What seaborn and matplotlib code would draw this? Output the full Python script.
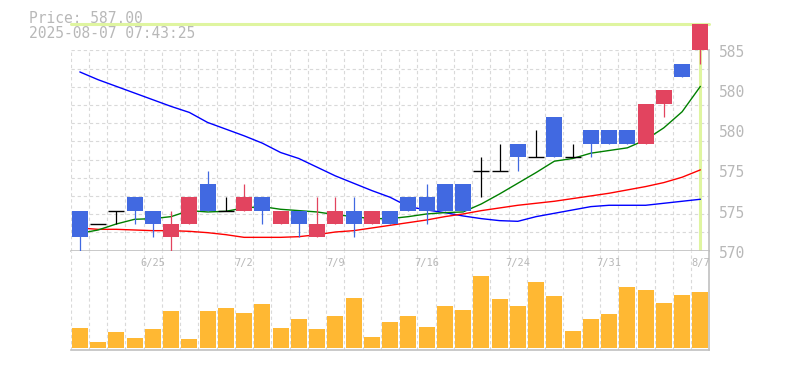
import numpy as np
import pandas as pd
import matplotlib
matplotlib.use("Agg")
import matplotlib.pyplot as plt
import matplotlib.transforms as mtransforms
import seaborn as sns

# ---- data ----
dates = ['6/19', '6/20', '6/23', '6/24', '6/25', '6/26', '6/27', '6/30', '7/1', '7/2',
         '7/3', '7/4', '7/7', '7/8', '7/9', '7/10', '7/11', '7/14', '7/15', '7/16',
         '7/17', '7/18', '7/22', '7/23', '7/24', '7/25', '7/28', '7/29', '7/30', '7/31',
         '8/1', '8/4', '8/5', '8/6', '8/7']
opens = [573, 572, 573, 574, 573, 571, 572, 575, 573, 573,
         574, 572, 573, 571, 572, 573, 572, 573, 574, 574,
         575, 575, 576, 576, 578, 577, 580, 577, 579, 579,
         579, 578, 581, 584, 585]
highs = [573, 572, 573, 574, 573, 573, 574, 576, 574, 575,
         574, 573, 573, 574, 574, 574, 573, 573, 574, 575,
         575, 575, 577, 578, 578, 579, 580, 578, 579, 579,
         579, 581, 582, 584, 587]
lows = [570, 572, 572, 572, 571, 570, 572, 573, 573, 573,
        572, 572, 571, 571, 572, 571, 572, 572, 573, 572,
        573, 573, 574, 576, 576, 577, 577, 577, 577, 578,
        578, 578, 580, 583, 584]
closes = [571, 572, 573, 573, 572, 572, 574, 573, 573, 574,
          573, 573, 572, 572, 573, 572, 573, 572, 573, 573,
          573, 573, 576, 576, 577, 577, 577, 577, 578, 578,
          578, 581, 582, 583, 587]
ma5 = [571.3, 571.55, 572.0, 572.35, 572.4, 572.55, 573.0, 572.9, 572.95, 573.2,
       573.3, 573.1, 573.0, 572.9, 572.7, 572.55, 572.4, 572.4, 572.55, 572.75,
       572.85, 572.9, 573.5, 574.25, 575.05, 575.85, 576.7, 576.9, 577.3, 577.5,
       577.7, 578.3, 579.2, 580.4, 582.3]
ma25 = [571.7, 571.6, 571.6, 571.55, 571.5, 571.5, 571.45, 571.35, 571.2, 571.0,
        571.0, 571.0, 571.05, 571.2, 571.4, 571.5, 571.7, 571.9, 572.1, 572.3,
        572.55, 572.75, 573.0, 573.2, 573.4, 573.55, 573.7, 573.9, 574.1, 574.3,
        574.55, 574.8, 575.1, 575.5, 576.05]
ma75 = [583.38, 582.8, 582.3, 581.8, 581.3, 580.8, 580.35, 579.6, 579.1, 578.6,
        578.05, 577.35, 576.9, 576.25, 575.6, 575.05, 574.5, 574.0, 573.3, 573.05,
        572.85, 572.6, 572.4, 572.25, 572.2, 572.55, 572.8, 573.05, 573.3, 573.4,
        573.4, 573.4, 573.55, 573.7, 573.85]
volume = [19300, 5300, 15300, 9300, 18300, 36300, 8300, 36300, 39300, 34300,
          43300, 19300, 28300, 18300, 31300, 49300, 10300, 25300, 31300, 20300,
          41300, 37300, 71700, 48300, 41300, 65300, 51300, 16300, 28300, 33300,
          60300, 57300, 44300, 52300, 55300]
price_ticks = [570, 573, 576, 579, 582, 585]
price_tick_labels = ['570', '575', '575', '580', '580', '585']
timestamp = '2025-08-07 07:43:25'

n = len(closes)
df = pd.DataFrame({'idx': np.arange(n), 'open': opens, 'high': highs, 'low': lows,
                   'close': closes, 'ma5': ma5, 'ma25': ma25, 'ma75': ma75,
                   'volume': volume})

UP = '#E2445F'
DOWN = '#4169E1'
GRID = '#d9d9d9'
SPINE = '#c0c0c0'
TXT = '#b8b8b8'
LIME = '#DFF5A0'

sns.set_style("white")
plt.rcParams['font.family'] = ['DejaVu Sans Mono']

W, H = 785, 370
fig = plt.figure(figsize=(W / 100, H / 100), dpi=100)
ax = fig.add_axes([70.7 / W, 1 - 250.7 / H, 638.8 / W, 200.4 / H])
axv = fig.add_axes([70.7 / W, 1 - 350 / H, 638.8 / W, 99.3 / H])

# ---- price panel ----
ax.set_xlim(-0.5, n - 0.5)
ax.set_ylim(570, 585)

# current price line + last bar marker
last_price = closes[-1]
ax.plot([-0.5, n - 0.5], [last_price, last_price], color=LIME, lw=2.2, clip_on=False, zorder=1.5)
ax.plot([n - 1, n - 1], [last_price, 570], color=LIME, lw=2.2, clip_on=False, zorder=1.5)

# moving averages
sns.lineplot(data=df, x='idx', y='ma75', color='#0000FF', lw=1.0, ax=ax, legend=False, zorder=3)
sns.lineplot(data=df, x='idx', y='ma25', color='#FF0000', lw=1.0, ax=ax, legend=False, zorder=3)
sns.lineplot(data=df, x='idx', y='ma5', color='#008000', lw=1.0, ax=ax, legend=False, zorder=3)

# candles
bw = 0.877
for i, r in df.iterrows():
    if r['close'] > r['open']:
        c = UP
    elif r['close'] < r['open']:
        c = DOWN
    else:
        c = 'black'
    ax.vlines(i, r['low'], r['high'], color=c, lw=0.9, clip_on=False, zorder=4)
    if r['close'] != r['open']:
        ax.bar(i, abs(r['close'] - r['open']), bottom=min(r['open'], r['close']),
               width=bw, color=c, lw=0, clip_on=False, zorder=5)
    else:
        ax.hlines(r['open'], i - bw / 2, i + bw / 2, color=c, lw=1.0, clip_on=False, zorder=5)

# grid
ax.set_xticks([])
ax.set_xticks(np.arange(-0.5, n, 1), minor=True)
ax.set_yticks([])
ax.set_yticks(np.linspace(570, 585, 12), minor=True)
ax.grid(which='minor', color=GRID, lw=0.8, linestyle=(0, (3, 2.5)))
ax.tick_params(which='both', length=0, labelbottom=False, labelleft=False)
ax.set_axisbelow(True)
ax.set_xlabel('')
ax.set_ylabel('')
for s in ['top', 'left']:
    ax.spines[s].set_visible(False)
for s in ['right', 'bottom']:
    ax.spines[s].set_color(SPINE)
    ax.spines[s].set_linewidth(1.2)

# price labels on the right
trans = ax.get_yaxis_transform() + mtransforms.ScaledTranslation(9.5 / 100, -2.4 / 100, fig.dpi_scale_trans)
for t, lab in zip(price_ticks, price_tick_labels):
    ax.text(1.0, t, lab, transform=trans, ha='left', va='center', fontsize=10.5, color=TXT)

# ---- volume panel ----
sns.barplot(data=df, x='idx', y='volume', native_scale=True, orient='x', width=bw,
            color='#FFB833', saturation=1, linewidth=0, ax=axv, zorder=3)
vmax = max(volume)
axv.set_xlim(-0.5, n - 0.5)
axv.set_ylim(-vmax * 2.3 / 71.7, vmax * 97.0 / 71.7)
axv.set_xticks([])
axv.set_xticks(np.arange(-0.5, n, 1), minor=True)
axv.set_yticks([])
axv.grid(which='minor', axis='x', color=GRID, lw=0.8, linestyle=(0, (3, 2.5)))
axv.tick_params(which='both', length=0, labelbottom=False, labelleft=False)
axv.set_axisbelow(True)
axv.set_xlabel('')
axv.set_ylabel('')
for s in ['top', 'left']:
    axv.spines[s].set_visible(False)
for s in ['right', 'bottom']:
    axv.spines[s].set_color(SPINE)
    axv.spines[s].set_linewidth(1.2)

# date labels, every 5 sessions counted back from the last one
dtrans = mtransforms.blended_transform_factory(axv.transData, axv.transAxes)
for i in range(n - 1, -1, -5):
    axv.text(i, 0.881, dates[i], transform=dtrans, ha='center', va='center',
             fontsize=7.5, color=TXT)

# header
fig.text(29.3 / W, 1 - 22.7 / H, f'Price: {last_price:.2f}', fontsize=10.5, color=TXT, va='baseline')
fig.text(29.3 / W, 1 - 37.7 / H, timestamp, fontsize=10.5, color=TXT, va='baseline')

fig.savefig('out.png', dpi=100)
